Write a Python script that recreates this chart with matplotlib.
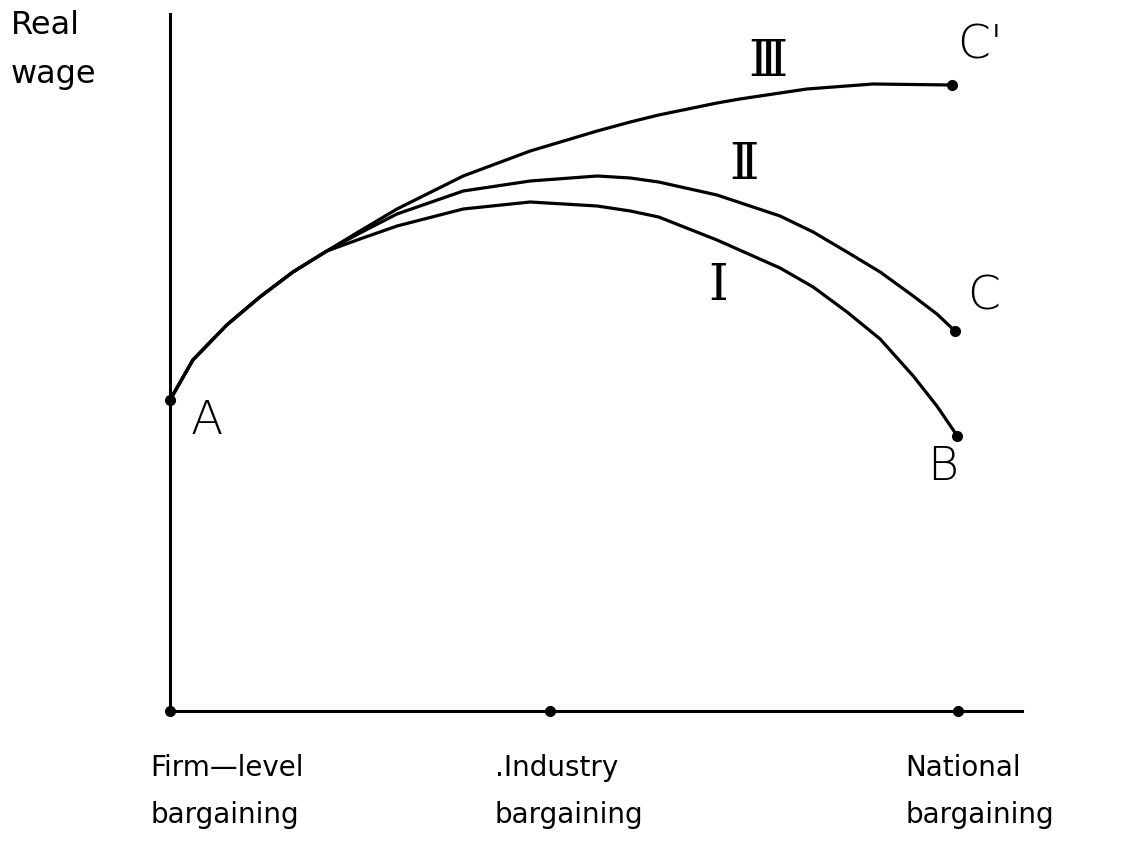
"""Real wage against level of wage bargaining (curves I, II, III)"""

import matplotlib
matplotlib.use("Agg")
import matplotlib.pyplot as plt
import numpy as np

# bargaining level: 0 = firm, ~48 = industry, 100 = national
levels = [0.0, 48.2, 100.0]
level_labels = ["Firm\u2014level\nbargaining", ".Industry\nbargaining", "National\nbargaining"]

# shared rising part starting at A
shared_x = [0.0, 2.9, 7.2, 11.4, 15.6, 19.9]
shared_y = [3.11, 3.51, 3.86, 4.14, 4.39, 4.60]

# curve I  -> B
x_I = [24.1, 28.8, 37.2, 45.7, 54.2, 58.4, 62.0, 69.4, 77.4, 81.6, 85.9, 90.1, 94.3, 97.3, 99.9]
y_I = [4.72, 4.85, 5.02, 5.09, 5.05, 5.00, 4.94, 4.71, 4.43, 4.24, 3.99, 3.72, 3.35, 3.05, 2.75]

# curve II -> C
x_II = [24.1, 28.8, 37.2, 45.7, 54.2, 58.4, 62.0, 69.4, 77.4, 81.6, 85.9, 90.1, 94.3, 97.3, 99.6]
y_II = [4.78, 4.97, 5.20, 5.30, 5.35, 5.33, 5.29, 5.16, 4.95, 4.79, 4.59, 4.39, 4.15, 3.97, 3.80]

# curve III -> C'
x_III = [24.1, 28.8, 37.2, 45.7, 54.2, 58.4, 62.0, 69.4, 72.3, 80.8, 89.2, 99.2]
y_III = [4.80, 5.02, 5.35, 5.60, 5.80, 5.89, 5.96, 6.08, 6.12, 6.22, 6.27, 6.26]

fig = plt.figure(figsize=(11.22, 8.45), dpi=100)
ax = fig.add_axes([170 / 1122, 133 / 845, 852 / 1122, 697 / 845])
ax.set_xlim(0, 108.1)
ax.set_ylim(0, 6.97)
for s in ["top", "right"]:
    ax.spines[s].set_visible(False)
for s in ["left", "bottom"]:
    ax.spines[s].set_linewidth(2.2)
ax.set_xticks([])
ax.set_yticks([])

lw = 2.3
for xs, ys in [(x_I, y_I), (x_II, y_II), (x_III, y_III)]:
    ax.plot(shared_x + xs, shared_y + ys, color="black", lw=lw,
            solid_joinstyle="round", solid_capstyle="round", clip_on=False)
    ax.plot(xs[-1], ys[-1], "o", color="black", ms=7, clip_on=False)
ax.plot(shared_x[0], shared_y[0], "o", color="black", ms=7, clip_on=False)

# dots on the bargaining axis
ax.plot(levels, [0] * len(levels), "o", color="black", ms=7, clip_on=False)

font = "DejaVu Sans"
big = 34
ax.text(4.7, 2.91, "A", fontsize=big, family=font, ha="center", va="center",
        fontweight="light")
ax.text(98.1, 2.45, "B", fontsize=big, family=font, ha="center", va="center",
        fontweight="light")
ax.text(103.2, 4.15, "C", fontsize=big, family=font, ha="center", va="center",
        fontweight="light", clip_on=False)
ax.text(102.8, 6.67, "C'", fontsize=big, family=font, ha="center", va="center",
        fontweight="light", clip_on=False)

roman = "DejaVu Serif"
ax.text(75.9, 6.50, "\u2162", fontsize=36, family=roman, ha="center", va="center")
ax.text(72.8, 5.47, "\u2161", fontsize=36, family=roman, ha="center", va="center")
ax.text(69.5, 4.26, "\u2160", fontsize=36, family=roman, ha="center", va="center")

# axis titles
ax.text(-20.2, 7.02, "Real\nwage", fontsize=23, family=font, ha="left", va="top",
        linespacing=1.75, clip_on=False)
label_x = [-2.5, 41.2, 93.3]
for lx, lab in zip(label_x, level_labels):
    ax.text(lx, -0.42, lab, fontsize=20, family=font, ha="left", va="top",
            linespacing=1.85, clip_on=False)

fig.savefig("out.png", dpi=100)
